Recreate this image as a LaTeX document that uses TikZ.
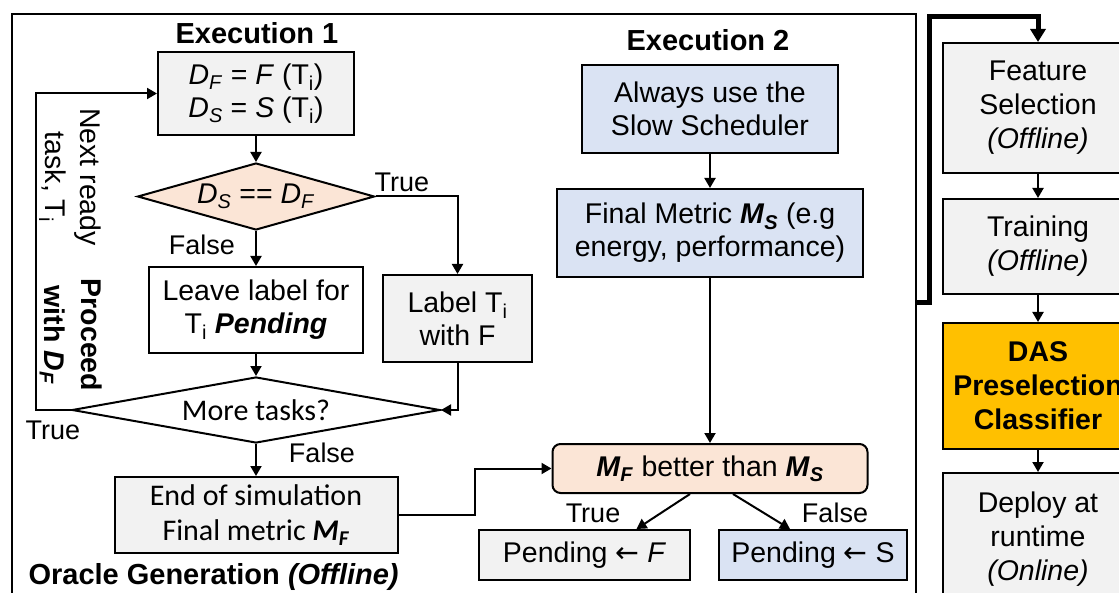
\documentclass[tikz,border=0pt]{standalone}
\usepackage{fontspec}
\setmainfont{Liberation Sans}
\newfontfamily\calfont{Carlito}
\newfontfamily\symfont{DejaVu Sans}
\usetikzlibrary{shapes.geometric,arrows.meta}
\definecolor{boxgray}{HTML}{F2F2F2}
\definecolor{boxblue}{HTML}{DAE3F3}
\definecolor{boxpeach}{HTML}{FBE5D6}
\definecolor{boxgold}{HTML}{FFC000}
\newcommand{\subtxt}[1]{\textsubscript{#1}}
\newcommand{\larr}{{\symfont ←}}
\begin{document}
\begin{tikzpicture}[x=1pt,y=-1pt,
    txt/.style={font=\fontsize{28.5}{33}\selectfont},
    cal/.style={font=\calfont\fontsize{30}{35}\selectfont},
    lbl/.style={font=\fontsize{27}{31}\selectfont},
    ttl/.style={font=\fontsize{29}{33}\selectfont\bfseries},
    box/.style={draw,line width=2pt,align=center,inner sep=0pt,txt},
    gbox/.style={box,fill=boxgray},
    bbox/.style={box,fill=boxblue},
    dec/.style={draw,line width=2pt,shape=diamond,inner sep=0pt,align=center,txt},
    arr/.style={line width=2pt,-{Triangle[length=10pt,width=11pt]}},
    bigarr/.style={line width=5pt,-{Triangle[length=13pt,width=15pt]}}]
  \useasboundingbox (0,0) rectangle (1119,593);
  \node[draw,line width=2pt,minimum width=904pt,minimum height=620pt,anchor=north west] (oracle) at (11,13) {};
  \node[ttl] (ex1) at (257,33) {Execution 1};
  \node[gbox,minimum width=196pt,minimum height=83pt] (init) at (256,93.5)
    {\textit{D}\subtxt{\textit{F}} = \textit{F} (T\subtxt{i})\\\textit{D}\subtxt{\textit{S}} = \textit{S} (T\subtxt{i})};
  \node[dec,fill=boxpeach,aspect=3.5,minimum width=237pt,minimum height=67pt] (cmp) at (256,196.5)
    {\textit{D}\subtxt{\textit{S}} == \textit{D}\subtxt{\textit{F}}};
  \node[box,fill=white,minimum width=214pt,minimum height=86pt] (leave) at (256,310)
    {Leave label for\\T\subtxt{i} \textbf{\textit{Pending}}};
  \node[gbox,minimum width=149pt,minimum height=87pt] (lab) at (457.5,318.5) {Label T\subtxt{i}\\with F};
  \node[dec,fill=white,cal,aspect=5.6,minimum width=368pt,minimum height=66pt] (more) at (256,410) {More tasks?};
  \node[gbox,cal,minimum width=283pt,minimum height=76pt] (endsim) at (256,515)
    {End of simulation\\Final metric \textbf{\textit{M}}\subtxt{\textbf{\textit{F}}}};
  \node[ttl,anchor=west] (orc) at (25,577) {Oracle Generation \textit{(Offline)}};
  \node[txt,rotate=-90,align=center,font=\fontsize{28.5}{35}\selectfont] (nxt) at (70,177) {Next ready\\task, T\subtxt{i}};
  \node[txt,rotate=-90,align=center,font=\fontsize{28.5}{37}\selectfont\bfseries] (prc) at (71,335)
    {Proceed\\with \textit{D}\subtxt{\textit{F}}};
  \node[lbl] (f1) at (202,245) {False};
  \node[lbl] (t1) at (402,182) {True};
  \node[lbl] (t2) at (53,430) {True};
  \node[lbl] (f2) at (322,453) {False};
  \node[ttl] (ex2) at (708,40) {Execution 2};
  \node[bbox,minimum width=256pt,minimum height=88pt] (always) at (710,109) {Always use the\\Slow Scheduler};
  \node[bbox,minimum width=306pt,minimum height=88pt] (metric) at (710,233)
    {Final Metric \textbf{\textit{M}}\subtxt{\textbf{\textit{S}}} (e.g\\energy, performance)};
  \node[box,fill=boxpeach,rounded corners=8pt,minimum width=315pt,minimum height=49pt] (better) at (710,468.5)
    {\textbf{\textit{M}}\subtxt{\textbf{\textit{F}}} better than \textbf{\textit{M}}\subtxt{\textbf{\textit{S}}}};
  \node[gbox,minimum width=211pt,minimum height=50pt] (pendf) at (584.5,555) {Pending \larr{} \textit{F}};
  \node[bbox,minimum width=188pt,minimum height=50pt] (pends) at (813,555) {Pending \larr{} S};
  \node[lbl] (t3) at (593,513) {True};
  \node[lbl] (f3) at (835,513) {False};
  \node[gbox,font=\fontsize{28.5}{34}\selectfont,minimum width=190pt,minimum height=130pt] (feat) at (1038,108)
    {Feature\\Selection\\\textit{(Offline)}};
  \node[gbox,font=\fontsize{28.5}{34}\selectfont,minimum width=190pt,minimum height=95pt] (train) at (1038,246.5)
    {Training\\\textit{(Offline)}};
  \node[box,fill=boxgold,font=\fontsize{28.5}{34}\selectfont\bfseries,minimum width=190pt,minimum height=126pt] (das) at (1038,386)
    {DAS\\Preselection\\Classifier};
  \node[gbox,font=\fontsize{28.5}{34}\selectfont,minimum width=190pt,minimum height=132pt] (deploy) at (1038,539)
    {Deploy at\\runtime\\\textit{(Online)}};
  \coordinate (loop) at (36,250);
  \coordinate (jog) at (475,490);
  \coordinate (out) at (915,303);
  \coordinate (up) at (929,17);
  \draw[arr] (init) -- (cmp);
  \draw[arr] (cmp) -- (leave);
  \draw[arr] (cmp.east) -| (lab.north);
  \draw[arr] (leave) -- (more);
  \draw[arr] (lab.south) |- (more.east);
  \draw[arr] (more.west) -| (loop) |- (init.west);
  \draw[arr] (more) -- (endsim);
  \draw[arr] (endsim.east) -| (jog) |- (better.west);
  \draw[arr] (always) -- (metric);
  \draw[arr] (metric) -- (better);
  \draw[arr] ([shift={(-20,0)}]better.south) -- ([shift={(52,0)}]pendf.north);
  \draw[arr] ([shift={(23,0)}]better.south) -- ([shift={(-23,0)}]pends.north);
  \draw[arr] (feat) -- (train);
  \draw[arr] (train) -- (das);
  \draw[arr] (das) -- (deploy);
  \draw[bigarr] (out) -| (up) -| (feat.north);
\end{tikzpicture}
\end{document}
